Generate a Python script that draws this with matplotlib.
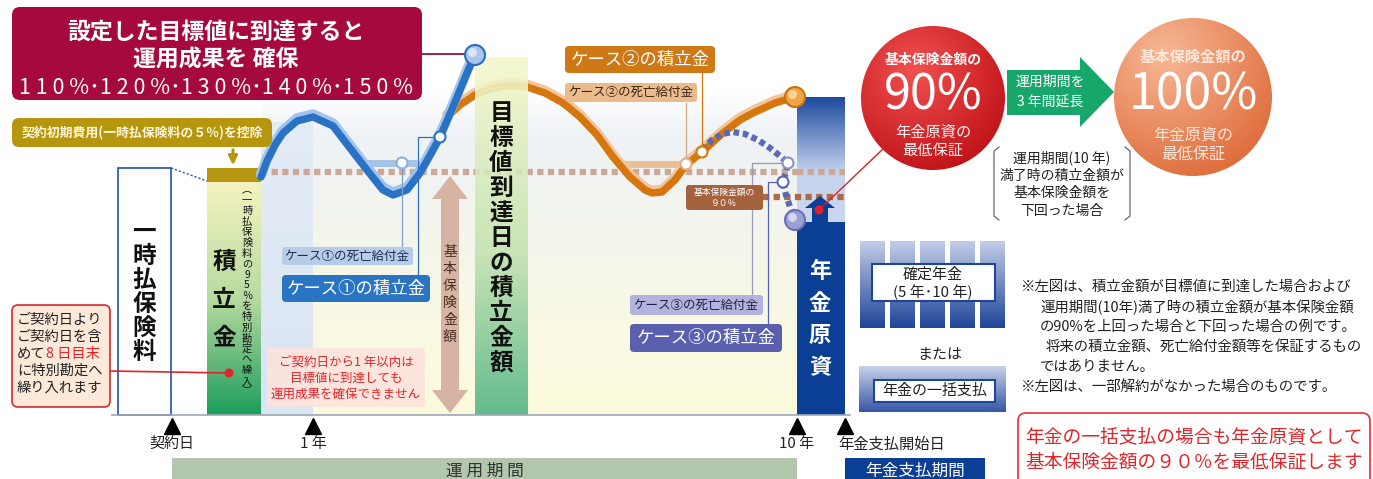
import numpy as np
import matplotlib.pyplot as plt
import matplotlib.colors as mcolors
from matplotlib.patches import FancyBboxPatch, Rectangle, Circle, Polygon

plt.rcParams['font.family'] = ['Noto Sans CJK JP', 'DejaVu Sans']

W, H = 1373, 479

# curves (pixel coords, y grows downward)
case1_x = [261, 267, 275, 283, 297, 313, 333, 350, 367, 383, 393, 407, 420, 433, 440, 453, 467, 475]
case1_y = [177, 161, 145, 133, 121, 117, 126, 148, 170, 190, 195, 190, 173, 150, 137, 107, 73, 55]
case1_death_x = [363, 417]
case1_death_y = [163, 163]

case2_x = [447, 460, 475, 490, 505, 520, 527, 545, 563, 580, 597, 613, 630, 645, 652, 662, 675, 686, 702, 723, 740, 753, 775, 795]
case2_y = [117, 105, 95, 89, 86, 86, 87, 93, 103, 117, 135, 157, 177, 190, 193, 192, 180, 165, 152, 133, 120, 113, 103, 97]
case2_death_x = [617, 686]
case2_death_y = [164, 164]

case3_x = [702, 712, 722, 733, 745, 758, 770, 780, 788, 786, 783, 786, 790, 795]
case3_y = [150, 140, 134, 132, 134, 140, 148, 156, 163, 172, 182, 195, 207, 218]

base_level = 172      # 基本保険金額
level_90 = 197        # 基本保険金額の90%

tick_x = [172, 313, 797, 845]
tick_labels = ['契約日', '1 年', '10 年', '年金支払開始日']

target_rates = ['110', '120', '130', '140', '150']

fig = plt.figure(figsize=(W / 100, H / 100), dpi=100)
ax = fig.add_axes([0, 0, 1, 1])
ax.axis('off')


def grad(x0, y0, x1, y1, stops, z=1, alpha=1.0, horiz=False):
    t = np.linspace(0, 1, 256)
    pos = [p for p, c in stops]
    cols = np.array([mcolors.to_rgb(c) for p, c in stops])
    rgb = np.stack([np.interp(t, pos, cols[:, k]) for k in range(3)], axis=-1)
    img = rgb[None, :, :] if horiz else rgb[:, None, :]
    return ax.imshow(img, extent=[x0, x1, y1, y0], aspect='auto', zorder=z,
                     alpha=alpha, interpolation='bilinear')


def radial(cx, cy, r, c_in, c_out, fx, fy, z=5):
    n = 300
    yy, xx = np.mgrid[0:n, 0:n] / (n - 1)
    X = cx - r + xx * 2 * r
    Y = cy - r + yy * 2 * r
    d = np.clip(np.hypot(X - fx, Y - fy) / (1.7 * r), 0, 1)[..., None]
    a = np.array(mcolors.to_rgb(c_in))
    b = np.array(mcolors.to_rgb(c_out))
    img = a * (1 - d) + b * d
    im = ax.imshow(img, extent=[cx - r, cx + r, cy + r, cy - r], aspect='auto',
                   zorder=z, interpolation='bilinear')
    c = Circle((cx, cy), r, fc='none', ec='none', zorder=z)
    ax.add_patch(c)
    im.set_clip_path(c)


def box(x0, y0, x1, y1, fc, ec='none', lw=0, r=4, z=8, alpha=1.0):
    p = FancyBboxPatch((x0, y0), x1 - x0, y1 - y0,
                       boxstyle=f'round,pad=0,rounding_size={r}',
                       fc=fc, ec=ec, lw=lw, zorder=z, alpha=alpha)
    ax.add_patch(p)


def vtext(x, y0, step, s, **kw):
    for i, ch in enumerate(s):
        ax.text(x, y0 + i * step, ch, ha='center', va='center', **kw)


def ball(x, y, r, fc, ec, hl):
    ax.add_patch(Circle((x, y), r, fc=fc, ec=ec, lw=1.5, zorder=12))
    ax.add_patch(Circle((x - r * 0.25, y - r * 0.25), r * 0.45, fc=hl, ec='none',
                        alpha=0.8, zorder=12))


def dot(x, y, ec):
    ax.add_patch(Circle((x, y), 5.5, fc='white', ec=ec, lw=1.5, zorder=12))


# ---- backgrounds ----
grad(261, 88, 797, 415, [(0, '#ffffff'), (0.15, '#eef2f6'), (0.5, '#f5f6ea'), (1, '#fdfbdc')], z=0)
grad(261, 122, 313, 415, [(0, '#e4ecf6'), (1, '#d9e5f2')], z=0.5)

# title box
box(12, 7, 422, 100, '#a6093d', r=8, z=8)
ax.text(216, 32, '設定した目標値に到達すると', color='white', fontsize=16.5,
        fontweight='bold', ha='center', va='center', zorder=9)
ax.text(216, 60, '運用成果を 確保', color='white', fontsize=16.5,
        fontweight='bold', ha='center', va='center', zorder=9)
ax.text(216, 88, '･'.join(' '.join(r) + ' %' for r in target_rates), color='white',
        fontsize=15.5, ha='center', va='center', zorder=9)
ax.plot([422, 466], [54, 54], color='#a6093d', lw=1.3, zorder=7)

# initial cost box
gold = '#b5960e'
box(12, 118, 272, 147, gold, r=7, z=8)
ax.text(142, 132.5, '契約初期費用(一時払保険料の５％)を控除', color='#fff6d6',
        fontsize=9.3, fontweight='bold', ha='center', va='center', zorder=9)
ax.annotate('', xy=(233, 168), xytext=(233, 147),
            arrowprops=dict(arrowstyle='-|>', color=gold, lw=2.2, mutation_scale=13), zorder=9)

# single premium box
ax.add_patch(Rectangle((118, 168), 53, 247, fc='white', ec='#2f5fb5', lw=1.3, zorder=3))
vtext(144, 232, 24, '一時払保険料', fontsize=17, fontweight='bold', color='#111', zorder=4)
ax.plot([171, 207], [168, 181], color='#2a50a0', lw=1, ls=(0, (1.5, 1.5)), zorder=3)

# reserve bar
grad(207, 182, 261, 415, [(0, '#f5f3c0'), (0.5, '#b6dba0'), (1, '#1d9d5b')], z=3)
ax.add_patch(Rectangle((207, 168), 54, 14, fc=gold, ec='none', zorder=3))
vtext(224, 262, 38, '積立金', fontsize=17, fontweight='bold', color='#111', zorder=4)
vtext(247, 190, 10.6, '︵一時払保険料の95％を特別勘定へ繰入︶', fontsize=7.4,
      color='#111', zorder=4)

# left notice
box(12, 305, 110, 407, '#fde9d9', ec='#d42a30', lw=1.2, r=6, z=8)
for i, line in enumerate(['ご契約日より', 'ご契約日を含', 'めて', 'に特別勘定へ', '繰り入れます']):
    ax.text(17, 320 + i * 17, line, fontsize=10.3, color='#222', va='center', zorder=9)
ax.text(46, 354, '8 日目末', fontsize=10.3, color='#e0262b', va='center', zorder=9)
ax.plot([110, 229], [371, 373], color='#e0262b', lw=1.2, zorder=6)
ax.add_patch(Circle((229, 373), 4.5, fc='#e0262b', ec='none', zorder=7))

# dotted levels
ax.plot([261, 845], [base_level, base_level], color='#cba898', lw=4.5,
        ls=(0, (1, 0.7)), dash_capstyle='butt', zorder=2)
ax.plot([763, 845], [level_90, level_90], color='#ad6a45', lw=4.5,
        ls=(0, (1, 0.7)), dash_capstyle='butt', zorder=6)

# basic insured amount arrow
ax.add_patch(Polygon([(450, 176), (468, 199), (459, 199), (459, 390), (468, 390), (450, 413),
                      (432, 390), (441, 390), (441, 199), (432, 199)],
                     fc='#d6b3a3', ec='none', zorder=3))
vtext(450, 252, 17, '基本保険金額', fontsize=10, color='#4a3024', zorder=4)

# 1-year notice
box(267, 348, 425, 407, '#fde3dc', r=3, z=4, alpha=0.9)
for i, line in enumerate(['ご契約日から1 年以内は', '目標値に到達しても', '運用成果を確保できません']):
    ax.text(346, 362 + i * 16, line, fontsize=9, color='#e0262b', ha='center',
            va='center', zorder=5)

# case 2 (orange)
ax.plot(case2_death_x, case2_death_y, color='#ecc095', lw=5, solid_capstyle='butt', zorder=4)
ax.plot(case2_x, [y - 2.5 for y in case2_y], color='#f2c59a', lw=7, solid_joinstyle='round',
        solid_capstyle='round', zorder=4)
ax.plot(case2_x, case2_y, color='#d6760e', lw=5.3, solid_joinstyle='round',
        solid_capstyle='round', zorder=4)

# target date bar (slightly see-through)
grad(475, 57, 528, 415, [(0, '#f6f8cc'), (0.55, '#c3e2b0'), (1, '#4fb383')], z=5, alpha=0.88)
vtext(501, 113, 25, '目標値到達日の積立金額', fontsize=17, fontweight='bold', color='#111', zorder=6)

# case 1 (blue)
ax.plot(case1_death_x, case1_death_y, color='#a6c3e6', lw=5, solid_capstyle='butt', zorder=6)
ax.plot(case1_x, [y - 2.5 for y in case1_y], color='#a2c4ec', lw=7.5, solid_joinstyle='round',
        solid_capstyle='round', zorder=6)
ax.plot(case1_x, case1_y, color='#2a72c4', lw=5.3, solid_joinstyle='round',
        solid_capstyle='round', zorder=6)

# case 3 (dashed)
ax.plot(case3_x, case3_y, color='#5b68b5', lw=4.5, ls=(0, (0.9, 0.6)),
        dash_capstyle='butt', zorder=6)

# pension fund bar
grad(797, 97, 845, 222, [(0, '#1c4aa0'), (0.6, '#c5d4ed'), (1, '#cad8ef')], z=3)
ax.add_patch(Rectangle((797, 222), 48, 193, fc='#0b3e95', ec='none', zorder=3))
ax.add_patch(Polygon([(805, 208), (820, 196), (835, 208), (828, 208), (828, 223),
                      (812, 223), (812, 208)], fc='#0b3e95', ec='none', zorder=7))
vtext(820, 272, 32, '年金原資', fontsize=16, fontweight='bold', color='white', zorder=8)
ax.plot([797, 845], [base_level, base_level], color='#cba898', lw=4.5,
        ls=(0, (1, 0.7)), dash_capstyle='butt', zorder=4)

# connectors and markers
thin = dict(lw=0.9, zorder=7)
ax.plot([402, 402], [163, 247], color='#7f9fcc', **thin)
ax.plot([418, 418, 440], [275, 137, 137], color='#2a72c4', **thin)
ax.plot([686, 686], [103, 164], color='#d8a880', **thin)
ax.plot([702, 702], [73, 152], color='#d6760e', **thin)
ax.plot([752, 752, 788], [297, 163, 163], color='#9a9ab8', **thin)
ax.plot([768, 768, 783], [325, 182, 182], color='#5b5fae', **thin)
dot(402, 163, '#8fb0dc')
dot(440, 137, '#2a72c4')
dot(686, 164, '#e0b080')
dot(702, 152, '#d6760e')
dot(788, 163, '#8a90c8')
dot(783, 182, '#5b68b5')
ball(475, 55, 10, '#a9c5eb', '#2a6cc0', '#e8f0fb')
ball(795, 97, 10, '#f0a545', '#cc7010', '#fde0b0')
ball(795, 220, 10, '#9ba0d2', '#6a70b8', '#e2e4f4')
ax.add_patch(Circle((819, 210), 4.5, fc='#e0202a', ec='none', zorder=9))
ax.plot([819, 884], [210, 148], color='#d8202a', lw=1, zorder=8)

# case labels
box(282, 247, 413, 265, '#b7cce8', r=3, z=8)
ax.text(347, 256, 'ケース①の死亡給付金', fontsize=9, color='#1c2c50', ha='center', va='center', zorder=9)
box(282, 275, 430, 302, '#2a74c4', r=4, z=8)
ax.text(356, 288.5, 'ケース①の積立金', fontsize=12.5, color='white', ha='center', va='center', zorder=9)
box(565, 46, 715, 73, '#cf7816', r=4, z=8)
ax.text(640, 59.5, 'ケース②の積立金', fontsize=12.5, color='white', ha='center', va='center', zorder=9)
box(565, 83, 697, 102, '#ebbb8c', r=3, z=8)
ax.text(631, 92.5, 'ケース②の死亡給付金', fontsize=9, color='#3a2412', ha='center', va='center', zorder=9)
box(630, 295, 763, 315, '#b4b2de', r=3, z=8)
ax.text(696, 305, 'ケース③の死亡給付金', fontsize=9, color='#1e1e40', ha='center', va='center', zorder=9)
box(630, 324, 782, 352, '#5a5fae', r=4, z=8)
ax.text(706, 338, 'ケース③の積立金', fontsize=12.5, color='white', ha='center', va='center', zorder=9)
box(686, 185, 763, 210, '#a5623f', r=3, z=8)
ax.text(724.5, 197.5, '基本保険金額の\n９０％', fontsize=6.3, color='white', ha='center',
        va='center', linespacing=1.3, zorder=9)

# axis, ticks and periods
ax.plot([112, 850], [415, 415], color='#a0a8b8', lw=1.2, zorder=8)
ax.plot(tick_x, [426] * len(tick_x), ls='none', marker='^', ms=11, color='black', zorder=8)
for x, lab in zip(tick_x, tick_labels):
    if lab == '年金支払開始日':
        ax.text(838, 444, lab, fontsize=11, color='#222', ha='left', va='center')
    else:
        ax.text(x, 444, lab, fontsize=10.8, color='#222', ha='center', va='center')
ax.add_patch(Rectangle((172, 458), 625, 25, fc='#b3c7ae', ec='none', zorder=2))
ax.text(485, 471, '運 用 期 間', fontsize=12, color='#333', ha='center', va='center', zorder=3)
ax.add_patch(Rectangle((845, 458), 140, 25, fc='#0b3e95', ec='none', zorder=2))
ax.text(915, 471, '年金支払期間', fontsize=12, color='white', ha='center', va='center', zorder=3)

# circles
radial(933, 98, 72, '#f25050', '#b80a10', 915, 70)
ax.text(933, 60, '基本保険金額の', fontsize=10, fontweight='bold', color='white', ha='center', va='center', zorder=9)
ax.text(933, 96, '90%', fontsize=35, color='white', ha='center', va='center', zorder=9)
ax.text(933, 132, '年金原資の', fontsize=11, color='#fff0f0', ha='center', va='center', zorder=9)
ax.text(933, 151, '最低保証', fontsize=11, color='#fff0f0', ha='center', va='center', zorder=9)

radial(1193, 97, 79, '#f7b896', '#de6a38', 1165, 55)
ax.text(1193, 57, '基本保険金額の', fontsize=11, fontweight='bold', color='#fde6da', ha='center', va='center', zorder=9)
ax.text(1193, 95, '100%', fontsize=36, color='white', ha='center', va='center', zorder=9)
ax.text(1193, 135, '年金原資の', fontsize=11.5, color='#fde6da', ha='center', va='center', zorder=9)
ax.text(1193, 155, '最低保証', fontsize=11.5, color='#fde6da', ha='center', va='center', zorder=9)

# green arrow
ax.add_patch(Polygon([(1007, 70), (1080, 70), (1080, 57), (1114, 92), (1080, 127),
                      (1080, 115), (1007, 115)], fc='#18a76b', ec='none', zorder=8))
ax.text(1050, 82, '運用期間を', fontsize=10, color='white', ha='center', va='center', zorder=9)
ax.text(1050, 103, '3 年間延長', fontsize=10, color='white', ha='center', va='center', zorder=9)

# bracket note
ax.plot([999, 994, 994, 999], [147, 151, 216, 220], color='#555', lw=0.8)
ax.plot([1125, 1130, 1130, 1125], [147, 151, 216, 220], color='#555', lw=0.8)
for i, line in enumerate(['運用期間(10 年)', '満了時の積立金額が', '基本保険金額を', '下回った場合']):
    ax.text(1062, 158 + i * 17.5, line, fontsize=10, color='#222', ha='center', va='center')

# payout options
for x0 in [860, 890, 920, 950, 980]:
    grad(x0, 241, x0 + 25, 328, [(0, '#c2cde8'), (1, '#1f4597')], z=2)
ax.add_patch(Rectangle((872, 264), 123, 37, fc='white', ec='#1f4597', lw=1.5, zorder=3))
ax.text(933, 275, '確定年金', fontsize=10.8, color='#222', ha='center', va='center', zorder=4)
ax.text(933, 292, '(5 年･10 年)', fontsize=10.8, color='#222', ha='center', va='center', zorder=4)
ax.text(940, 355, 'または', fontsize=10.8, color='#222', ha='center', va='center')
grad(859, 366, 1006, 412, [(0, '#c8d2ea'), (1, '#3656a6')], z=2)
ax.add_patch(Rectangle((874, 380), 121, 22, fc='white', ec='#1f4597', lw=1.5, zorder=3))
ax.text(934.5, 391, '年金の一括支払', fontsize=10.8, color='#222', ha='center', va='center', zorder=4)

# notes
notes = [(1020, '※左図は、積立金額が目標値に到達した場合および'),
         (1040, '運用期間(10年)満了時の積立金額が基本保険金額'),
         (1040, 'の90%を上回った場合と下回った場合の例です。'),
         (1046, '将来の積立金額、死亡給付金額等を保証するもの'),
         (1040, 'ではありません。'),
         (1020, '※左図は、一部解約がなかった場合のものです。')]
for i, (x, line) in enumerate(notes):
    ax.text(x, 287 + i * 20, line, fontsize=10.4, color='#222', va='center')

box(1018, 413, 1370, 490, 'white', ec='#e0302f', lw=1.2, r=8, z=2)
ax.text(1194, 437, '年金の一括支払の場合も年金原資として', fontsize=13.5, color='#e0262b',
        ha='center', va='center', zorder=3)
ax.text(1194, 462, '基本保険金額の９０％を最低保証します', fontsize=13.5, color='#e0262b',
        ha='center', va='center', zorder=3)

ax.set_xlim(0, W)
ax.set_ylim(H, 0)
fig.savefig('out.png', dpi=100)
